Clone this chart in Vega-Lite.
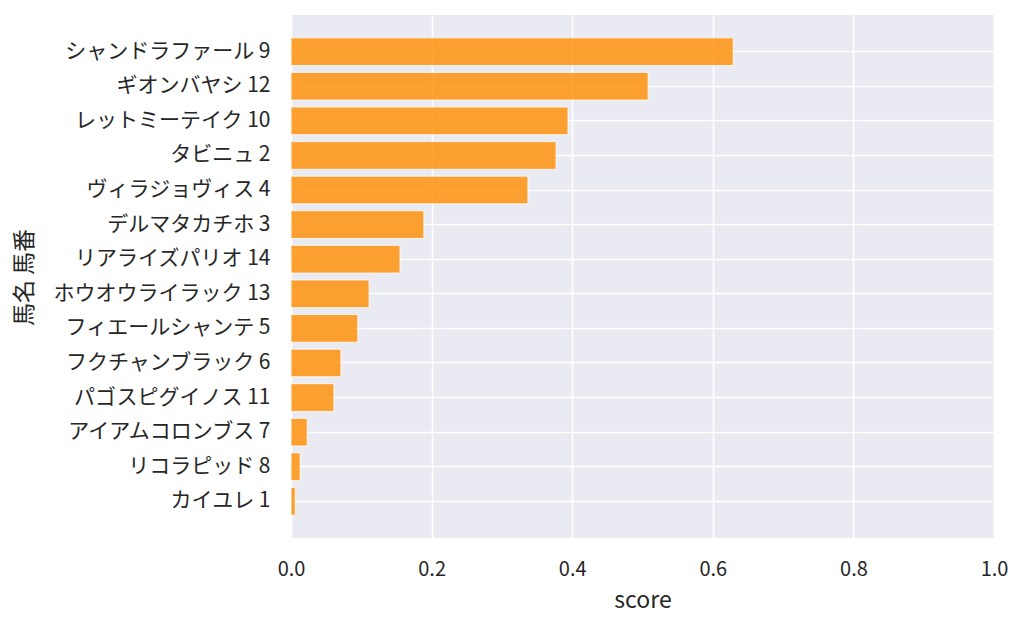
{
  "$schema": "https://vega.github.io/schema/vega-lite/v6.json",
  "width": 703,
  "height": 523,
  "autosize": {"type": "none"},
  "padding": {"left": 291, "top": 15, "right": 30, "bottom": 89},
  "background": "#ffffff",
  "config": {
    "font": "Noto Sans CJK JP",
    "view": {"fill": "#EAEAF2", "stroke": null},
    "axis": {
      "labelFont": "Noto Sans CJK JP",
      "titleFont": "Noto Sans CJK JP",
      "labelColor": "#262626",
      "titleColor": "#262626",
      "labelFontSize": 20,
      "titleFontSize": 23,
      "titleFontWeight": "normal",
      "labelLimit": 400,
      "domain": false,
      "ticks": false,
      "gridColor": "#ffffff",
      "gridWidth": 1.6,
      "gridOpacity": 1
    }
  },
  "data": {
    "values": [
      {"name": "シャンドラファール 9", "score": 0.629},
      {"name": "ギオンバヤシ 12", "score": 0.508},
      {"name": "レットミーテイク 10", "score": 0.394},
      {"name": "タビニュ 2", "score": 0.377},
      {"name": "ヴィラジョヴィス 4", "score": 0.337},
      {"name": "デルマタカチホ 3", "score": 0.189},
      {"name": "リアライズパリオ 14", "score": 0.155},
      {"name": "ホウオウライラック 13", "score": 0.111},
      {"name": "フィエールシャンテ 5", "score": 0.095},
      {"name": "フクチャンブラック 6", "score": 0.071},
      {"name": "パゴスピグイノス 11", "score": 0.061},
      {"name": "アイアムコロンブス 7", "score": 0.023},
      {"name": "リコラピッド 8", "score": 0.013},
      {"name": "カイユレ 1", "score": 0.006}
    ]
  },
  "mark": {
    "type": "bar",
    "fill": "#FF8C00",
    "fillOpacity": 0.8,
    "stroke": "#ffffff",
    "strokeOpacity": 0.8,
    "strokeWidth": 1
  },
  "encoding": {
    "x": {
      "field": "score",
      "type": "quantitative",
      "title": "score",
      "scale": {"domain": [0, 1], "nice": false},
      "axis": {
        "values": [0, 0.2, 0.4, 0.6, 0.8, 1.0],
        "format": ".1f",
        "labelFlush": false,
        "labelPadding": 21,
        "titlePadding": 10
      }
    },
    "y": {
      "field": "name",
      "type": "nominal",
      "title": "馬名 馬番",
      "sort": "-x",
      "scale": {"paddingInner": 0.2, "paddingOuter": 0.66},
      "axis": {
        "grid": true,
        "bandPosition": 0.5,
        "labelFontSize": 21,
        "labelPadding": 21,
        "titleX": -267,
        "titleY": 262,
        "titleAngle": -90,
        "titleAlign": "center",
        "titleBaseline": "middle"
      }
    }
  }
}
